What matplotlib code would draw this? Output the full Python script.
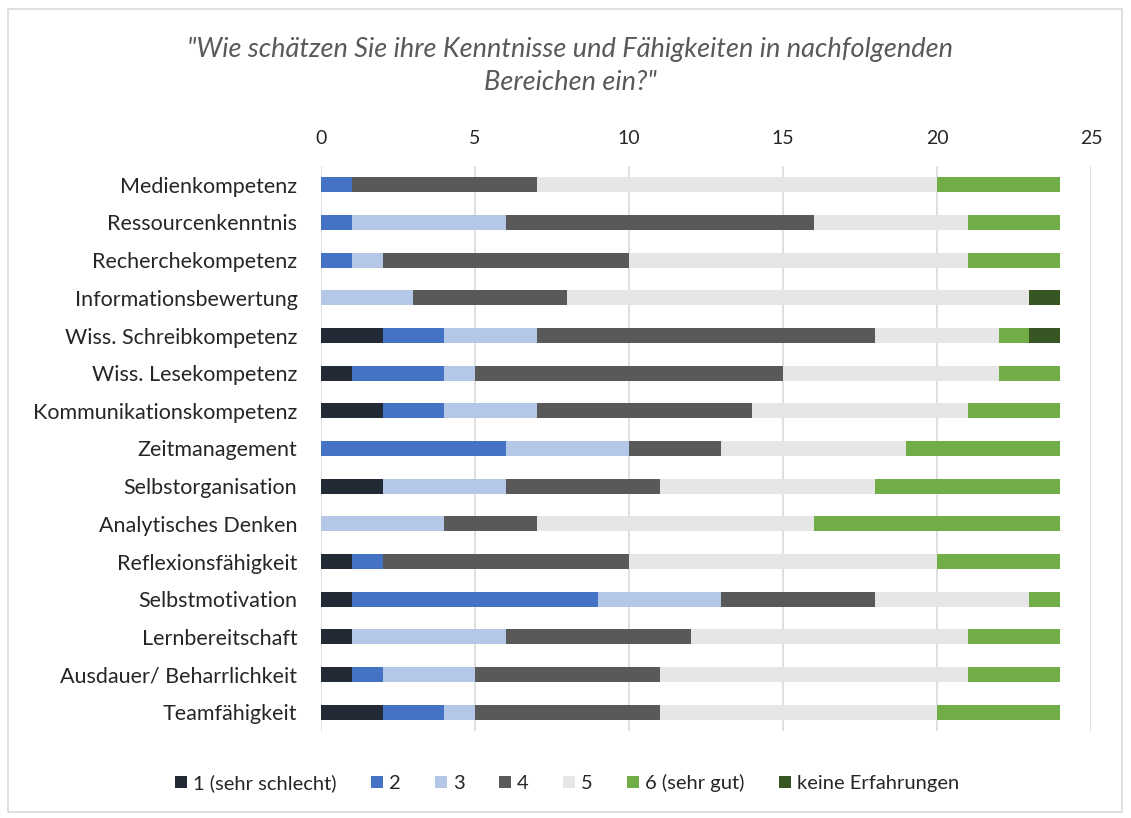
import numpy as np
import matplotlib.pyplot as plt
from matplotlib.patches import Rectangle

plt.rcParams['font.family'] = ['Lato', 'DejaVu Sans']

categories = ["Medienkompetenz", "Ressourcenkenntnis", "Recherchekompetenz",
              "Informationsbewertung", "Wiss. Schreibkompetenz", "Wiss. Lesekompetenz",
              "Kommunikationskompetenz", "Zeitmanagement", "Selbstorganisation",
              "Analytisches Denken", "Reflexionsfähigkeit", "Selbstmotivation",
              "Lernbereitschaft", "Ausdauer/ Beharrlichkeit", "Teamfähigkeit"]

series_names = ["1 (sehr schlecht)", "2", "3", "4", "5", "6 (sehr gut)", "keine Erfahrungen"]
s1 = [0, 0, 0, 0, 2, 1, 2, 0, 2, 0, 1, 1, 1, 1, 2]
s2 = [1, 1, 1, 0, 2, 3, 2, 6, 0, 0, 1, 8, 0, 1, 2]
s3 = [0, 5, 1, 3, 3, 1, 3, 4, 4, 4, 0, 4, 5, 3, 1]
s4 = [6, 10, 8, 5, 11, 10, 7, 3, 5, 3, 8, 5, 6, 6, 6]
s5 = [13, 5, 11, 15, 4, 7, 7, 6, 7, 9, 10, 5, 9, 10, 9]
s6 = [4, 3, 3, 0, 1, 2, 3, 5, 6, 8, 4, 1, 3, 3, 4]
s7 = [0, 0, 0, 1, 1, 0, 0, 0, 0, 0, 0, 0, 0, 0, 0]
colors = ["#222A35", "#4472C4", "#B4C7E7", "#595959", "#E7E6E6", "#70AD47", "#375623"]

series = [s1, s2, s3, s4, s5, s6, s7]

fig = plt.figure(figsize=(11.31, 8.18), dpi=100)
fig.patches.append(Rectangle((8 / 1131, 1 - 812 / 818), 1114 / 1131, 803 / 818,
                             transform=fig.transFigure, fill=False,
                             edgecolor="#D9D9D9", linewidth=1.2))

ax = fig.add_axes([321 / 1131, 1 - 731 / 818, 770 / 1131, 565 / 818])
y = np.arange(len(categories))
left = np.zeros(len(categories))
for vals, name, c in zip(series, series_names, colors):
    ax.barh(y, vals, left=left, height=0.4, color=c, label=name, zorder=3)
    left += np.array(vals)

ax.set_xlim(0, 25)
ax.set_ylim(len(categories) - 0.5, -0.5)
ax.set_xticks(np.arange(0, 26, 5))
ax.set_yticks(y)
ax.set_yticklabels(categories)
ax.xaxis.tick_top()
ax.tick_params(axis='both', length=0, colors="#262626")
ax.tick_params(axis='x', pad=14, labelsize=14)
ax.tick_params(axis='y', pad=17, labelsize=15.5)
ax.grid(axis='x', color="#D9D9D9", linewidth=1.2, zorder=0)
for s in ax.spines.values():
    s.set_visible(False)

fig.text(570 / 1131, 1 - 66 / 818,
         "\"Wie schätzen Sie ihre Kenntnisse und Fähigkeiten in nachfolgenden\nBereichen ein?\"",
         ha='center', va='center', fontsize=19.5, style='italic', color="#595959",
         linespacing=1.4)

fig.legend(loc='center', bbox_to_anchor=(567 / 1131, 1 - 783 / 818), ncol=7,
           frameon=False, fontsize=14.5, handlelength=0.6, handleheight=0.6,
           handletextpad=0.3, columnspacing=1.7, labelcolor="#262626")

fig.savefig("out.png", dpi=100, facecolor="white")
